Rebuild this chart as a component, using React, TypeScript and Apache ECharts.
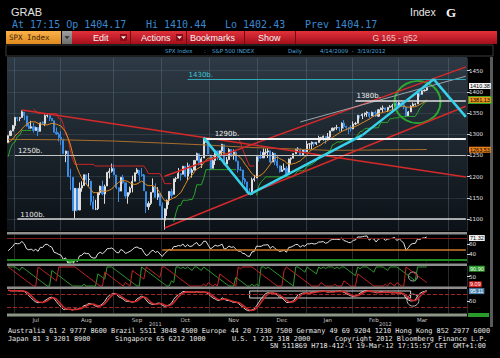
import { useEffect, useRef } from "react";
import * as echarts from "echarts";

type Bar = [number, number, number, number]; // open, close, low, high

// ---------- DATA ----------
const tradingDays: [string, number[]][] = [
  ["2011-06", [28, 29, 30]],
  ["2011-07", [1, 5, 6, 7, 8, 11, 12, 13, 14, 15, 18, 19, 20, 21, 22, 25, 26, 27, 28, 29]],
  ["2011-08", [1, 2, 3, 4, 5, 8, 9, 10, 11, 12, 15, 16, 17, 18, 19, 22, 23, 24, 25, 26, 29, 30, 31]],
  ["2011-09", [1, 2, 6, 7, 8, 9, 12, 13, 14, 15, 16, 19, 20, 21, 22, 23, 26, 27, 28, 29, 30]],
  ["2011-10", [3, 4, 5, 6, 7, 10, 11, 12, 13, 14, 17, 18, 19, 20, 21, 24, 25, 26, 27, 28, 31]],
  ["2011-11", [1, 2, 3, 4, 7, 8, 9, 10, 11, 14, 15, 16, 17, 18, 21, 22, 23, 25, 28, 29, 30]],
  ["2011-12", [1, 2, 5, 6, 7, 8, 9, 12, 13, 14, 15, 16, 19, 20, 21, 22, 23, 27, 28, 29, 30]],
  ["2012-01", [3, 4, 5, 6, 9, 10, 11, 12, 13, 17, 18, 19, 20, 23, 24, 25, 26, 27, 30, 31]],
  ["2012-02", [1, 2, 3, 6, 7, 8, 9, 10, 13, 14, 15, 16, 17, 21, 22, 23, 24, 27, 28, 29]],
  ["2012-03", [1, 2, 5, 6, 7, 8, 9, 12, 13, 14, 15, 16, 19, 20, 21, 22, 23, 26, 27, 28, 29, 30]],
  ["2012-04", [2, 3, 4, 5, 9, 10, 11, 12]],
];

const warmupCloses = [1314.6, 1312.9, 1300.2, 1286.2, 1284.9, 1279.6, 1289.0, 1271.0, 1271.8, 1287.9, 1265.4, 1267.6, 1271.5, 1278.4, 1295.5, 1287.1, 1283.5, 1268.5, 1280.1];

const barsJun: Bar[] = [[1280.2, 1296.7, 1280.2, 1296.8], [1296.9, 1307.4, 1296.9, 1309.2], [1307.6, 1320.6, 1307.6, 1322.0]];
const barsJul: Bar[] = [
  [1320.6, 1339.7, 1312.6, 1341.0], [1339.6, 1337.9, 1330.9, 1340.9], [1337.6, 1339.2, 1330.9, 1340.9], [1339.6, 1353.2, 1339.6, 1356.5],
  [1352.4, 1343.8, 1333.2, 1352.4], [1343.3, 1319.5, 1318.0, 1343.3], [1319.6, 1313.6, 1312.3, 1327.2], [1314.5, 1317.7, 1313.3, 1331.5],
  [1317.7, 1308.9, 1303.9, 1326.7], [1308.9, 1316.1, 1308.9, 1317.7], [1315.9, 1305.4, 1295.9, 1315.9], [1307.1, 1326.7, 1307.1, 1328.1],
  [1328.7, 1325.8, 1323.0, 1330.4], [1325.6, 1343.8, 1319.7, 1347.0], [1343.8, 1345.0, 1339.7, 1347.0], [1344.3, 1337.4, 1331.1, 1344.3],
  [1337.4, 1331.9, 1331.1, 1338.5], [1331.9, 1304.9, 1303.9, 1331.9], [1304.8, 1300.7, 1299.0, 1316.3], [1300.1, 1292.3, 1282.9, 1304.2],
];
const barsAug: Bar[] = [
  [1292.6, 1286.9, 1274.9, 1307.4], [1286.6, 1254.1, 1254.0, 1289.5], [1254.3, 1260.3, 1234.0, 1261.2], [1260.2, 1200.1, 1199.5, 1260.2],
  [1200.3, 1199.4, 1168.1, 1218.7], [1198.5, 1119.5, 1119.3, 1198.5], [1120.2, 1172.5, 1101.5, 1172.9], [1171.8, 1120.8, 1118.0, 1171.8],
  [1121.3, 1172.6, 1121.3, 1186.3], [1172.9, 1178.8, 1164.4, 1189.0], [1178.9, 1204.5, 1178.9, 1204.5], [1204.2, 1192.8, 1180.5, 1204.2],
  [1192.9, 1193.9, 1177.0, 1208.5], [1189.6, 1140.7, 1131.6, 1189.6], [1140.5, 1123.5, 1122.7, 1154.1], [1123.6, 1123.8, 1121.1, 1145.5],
  [1124.4, 1162.4, 1121.1, 1162.4], [1162.2, 1177.6, 1156.4, 1178.5], [1176.7, 1159.3, 1156.2, 1190.7], [1158.9, 1176.8, 1135.9, 1181.2],
  [1177.9, 1210.1, 1177.9, 1210.1], [1209.8, 1212.9, 1195.9, 1220.0], [1213.0, 1218.9, 1209.6, 1230.7],
];
const barsSep: Bar[] = [
  [1219.1, 1204.4, 1203.3, 1229.3], [1203.9, 1174.0, 1170.4, 1203.9], [1174.0, 1165.2, 1140.1, 1174.0], [1165.9, 1198.6, 1165.9, 1198.6],
  [1198.0, 1185.9, 1183.3, 1204.4], [1185.4, 1154.2, 1148.4, 1185.4], [1153.5, 1162.3, 1136.1, 1162.5], [1162.6, 1172.9, 1157.5, 1176.4],
  [1173.3, 1188.7, 1162.9, 1202.4], [1189.4, 1209.1, 1189.4, 1209.1], [1209.2, 1216.0, 1206.3, 1220.1], [1215.0, 1204.1, 1188.4, 1215.0],
  [1204.5, 1202.1, 1200.1, 1220.4], [1203.6, 1166.8, 1166.7, 1206.3], [1164.6, 1129.6, 1114.2, 1164.6], [1128.8, 1136.4, 1121.4, 1141.7],
  [1136.9, 1163.0, 1132.9, 1163.0], [1163.3, 1175.4, 1163.3, 1195.9], [1175.4, 1151.1, 1150.3, 1184.1], [1151.7, 1160.4, 1145.1, 1175.1],
  [1159.9, 1131.4, 1131.3, 1159.9],
];
const barsOct: Bar[] = [
  [1131.2, 1099.2, 1098.9, 1139.0], [1097.4, 1124.0, 1074.8, 1125.1], [1124.0, 1144.0, 1107.4, 1146.1], [1144.1, 1165.0, 1133.4, 1165.6],
  [1165.0, 1155.5, 1148.5, 1171.4], [1158.2, 1194.9, 1158.2, 1194.9], [1194.6, 1195.5, 1187.4, 1199.2], [1196.2, 1207.3, 1196.1, 1220.3],
  [1207.0, 1203.7, 1190.6, 1207.5], [1205.7, 1224.6, 1205.7, 1224.6], [1224.5, 1200.9, 1198.6, 1224.5], [1200.8, 1225.4, 1191.5, 1233.1],
  [1223.5, 1209.9, 1206.3, 1229.6], [1209.9, 1215.4, 1197.7, 1219.4], [1215.4, 1238.3, 1215.4, 1239.0], [1238.7, 1254.2, 1238.7, 1256.6],
  [1254.2, 1229.1, 1226.6, 1254.2], [1229.2, 1242.0, 1220.5, 1246.3], [1244.0, 1284.6, 1244.0, 1292.7], [1284.4, 1285.1, 1280.4, 1287.1],
  [1285.0, 1253.3, 1253.3, 1285.0],
];
const barsNov: Bar[] = [
  [1251.0, 1218.3, 1215.4, 1251.0], [1219.6, 1237.9, 1219.6, 1242.5], [1238.3, 1261.2, 1227.7, 1263.2], [1260.8, 1253.2, 1238.9, 1260.8],
  [1253.2, 1261.1, 1239.0, 1261.7], [1261.1, 1275.9, 1250.9, 1277.6], [1275.2, 1229.1, 1226.6, 1275.2], [1229.6, 1239.7, 1229.6, 1246.2],
  [1240.1, 1263.9, 1240.1, 1267.0], [1263.9, 1251.8, 1246.7, 1263.9], [1251.7, 1257.8, 1239.9, 1264.3], [1257.8, 1236.9, 1235.7, 1259.6],
  [1236.6, 1216.1, 1209.7, 1237.7], [1216.2, 1215.7, 1213.6, 1223.5], [1215.6, 1193.0, 1183.5, 1215.6], [1193.0, 1188.0, 1181.6, 1196.8],
  [1187.5, 1161.8, 1161.8, 1187.5], [1161.4, 1158.7, 1158.7, 1172.7], [1158.7, 1192.6, 1158.7, 1197.4], [1192.6, 1195.2, 1188.3, 1203.7],
  [1196.7, 1247.0, 1196.7, 1247.1],
];
const barsDec: Bar[] = [
  [1246.9, 1244.6, 1235.5, 1251.1], [1246.0, 1244.3, 1241.4, 1260.1], [1244.3, 1257.1, 1244.3, 1266.7], [1257.2, 1258.5, 1252.1, 1266.0],
  [1258.1, 1261.0, 1244.0, 1267.1], [1260.9, 1234.4, 1231.5, 1260.9], [1234.5, 1255.2, 1234.5, 1258.3], [1255.1, 1236.5, 1227.3, 1255.1],
  [1236.8, 1225.7, 1219.8, 1249.9], [1225.7, 1211.8, 1209.5, 1225.7], [1212.1, 1215.8, 1212.1, 1225.6], [1216.1, 1219.7, 1215.2, 1231.0],
  [1219.7, 1205.4, 1202.4, 1224.6], [1205.7, 1241.3, 1205.7, 1242.8], [1241.3, 1243.7, 1229.5, 1245.1], [1243.7, 1254.0, 1242.8, 1255.2],
  [1254.0, 1265.3, 1254.0, 1265.4], [1265.0, 1265.4, 1258.0, 1269.4], [1265.4, 1249.6, 1248.1, 1265.9], [1249.8, 1263.0, 1249.8, 1263.5],
  [1262.8, 1257.6, 1257.6, 1264.1],
];
const barsJan: Bar[] = [
  [1258.9, 1277.1, 1258.9, 1284.6], [1277.0, 1277.3, 1265.7, 1278.7], [1277.3, 1281.1, 1265.3, 1283.1], [1280.9, 1277.8, 1271.5, 1281.8],
  [1277.8, 1280.7, 1274.5, 1282.0], [1280.8, 1292.1, 1280.8, 1296.5], [1292.0, 1292.5, 1285.0, 1293.8], [1292.5, 1295.5, 1285.0, 1296.8],
  [1294.8, 1289.1, 1277.6, 1294.8], [1290.2, 1293.7, 1290.2, 1303.0], [1293.7, 1308.0, 1291.0, 1308.1], [1308.1, 1314.5, 1308.1, 1315.5],
  [1314.5, 1315.4, 1309.2, 1315.4], [1315.3, 1316.0, 1309.9, 1322.3], [1316.0, 1314.7, 1306.1, 1316.0], [1314.4, 1326.1, 1306.7, 1328.3],
  [1326.3, 1318.4, 1313.3, 1333.5], [1318.3, 1316.3, 1309.2, 1320.1], [1316.2, 1313.0, 1300.5, 1316.2], [1313.5, 1312.4, 1306.1, 1321.4],
];
const barsFeb: Bar[] = [
  [1312.5, 1324.1, 1312.5, 1330.5], [1324.2, 1325.5, 1321.6, 1329.2], [1326.2, 1344.9, 1326.2, 1345.3], [1344.3, 1344.3, 1337.5, 1344.4],
  [1344.3, 1347.1, 1335.9, 1349.2], [1347.0, 1350.0, 1341.9, 1351.0], [1350.0, 1352.0, 1341.2, 1354.3], [1351.2, 1342.6, 1337.4, 1351.2],
  [1343.1, 1351.8, 1343.1, 1353.4], [1351.3, 1350.5, 1340.8, 1351.3], [1350.5, 1343.2, 1340.8, 1355.9], [1342.6, 1358.0, 1341.0, 1359.0],
  [1358.1, 1361.2, 1357.2, 1363.4], [1361.2, 1362.2, 1352.3, 1367.8], [1362.1, 1357.7, 1355.9, 1362.7], [1357.5, 1363.5, 1352.3, 1364.2],
  [1363.5, 1365.7, 1363.5, 1368.9], [1365.2, 1367.6, 1354.9, 1371.9], [1367.6, 1372.2, 1363.9, 1373.1], [1372.2, 1365.7, 1360.9, 1378.0],
];
const barsMar: Bar[] = [
  [1365.9, 1374.1, 1365.9, 1376.2], [1374.1, 1369.6, 1368.4, 1374.5], [1369.6, 1364.3, 1359.1, 1369.6], [1363.6, 1343.4, 1340.0, 1363.6],
  [1343.4, 1352.6, 1343.4, 1354.9], [1352.7, 1365.9, 1352.7, 1368.7], [1366.0, 1370.9, 1366.0, 1374.8], [1370.8, 1371.1, 1367.6, 1373.0],
  [1371.9, 1396.0, 1371.9, 1396.0], [1396.0, 1394.3, 1388.6, 1399.4], [1394.2, 1402.6, 1394.2, 1403.3], [1402.6, 1404.2, 1401.0, 1405.9],
  [1404.2, 1410.4, 1402.4, 1410.4],
];

// 200-day average at a few dates
const ma200Dates = ["2011-06-28", "2011-08-01", "2011-09-01", "2011-10-04", "2011-10-27", "2011-11-25", "2012-01-18", "2012-03-19"];
const ma200Values = [1288, 1287, 1284, 1279, 1275, 1269, 1262, 1264];

const priceTicks = [1100, 1150, 1200, 1250, 1300, 1350, 1400, 1450];
const rsiTicks = [40, 60];
const oscTicks = [50];

const levelLabels = ["1100b.", "1250b.", "1290b.", "1380b.", "1430b."];
const levelValues = [1100, 1250, 1290, 1380, 1430];
const levelStarts = ["2011-07-05", "2011-07-01", "2011-10-27", "2012-02-02", "2011-10-18"];
const lineEnd = "2012-04-12";

const resistanceLine: [string, number][] = [["2011-07-07", 1357], [lineEnd, 1199]];
const channelLow: [string, number][] = [["2011-10-04", 1078.7], [lineEnd, 1366]];
const channelHigh: [string, number][] = [["2011-10-04", 1201], [lineEnd, 1459]];
const recentTop: [string, number][] = [["2011-12-28", 1329], [lineEnd, 1437]];
const cyanPath: [string, number][] = [["2011-10-27", 1292], ["2011-11-25", 1158], ["2012-02-07", 1298], ["2012-03-22", 1430], [lineEnd, 1341]];
const focusCenter: [string, number] = ["2012-03-13", 1376];

const priceTags: [string, number][] = [["1410.38", 1410.38], ["1381.13", 1381.13], ["1263.53", 1263.53]];
const rsiTag = 71.32;
const rsiGuide: [string, number][] = [["2011-10-03", 49], [lineEnd, 49]];
const aroonTags: [string, number][] = [["90.90", 90.9], ["9.09", 9.09]];
const stochTag = 95.11;
const oscMark: [string, number] = ["2012-03-09", 50];
const stochMark: [string, number] = ["2012-03-09", 54];
const stochBox: [string, number][] = [["2011-11-25", 95.8], ["2012-03-08", 63.7]];

const MONTHS = ["Jan", "Feb", "Mar", "Apr", "May", "Jun", "Jul", "Aug", "Sep", "Oct", "Nov", "Dec"];

// ---------- indicators ----------
function smaPartial(arr: (number | null)[], n: number) {
  return arr.map((_, i) => {
    let s = 0, c = 0;
    for (let k = Math.max(0, i - n + 1); k <= i; k++) {
      const v = arr[k];
      if (v != null) { s += v; c++; }
    }
    return c ? s / c : null;
  });
}
function rsiCalc(c: number[], n: number) {
  const out: (number | null)[] = [null];
  let ag = 0, al = 0;
  for (let i = 1; i < c.length; i++) {
    const d = c[i] - c[i - 1];
    const g = Math.max(d, 0), l = Math.max(-d, 0);
    if (i <= n) { ag = (ag * (i - 1) + g) / i; al = (al * (i - 1) + l) / i; }
    else { ag = (ag * (n - 1) + g) / n; al = (al * (n - 1) + l) / n; }
    out.push(al === 0 ? 100 : 100 - 100 / (1 + ag / al));
  }
  return out;
}
function supertrend(h: number[], l: number[], c: number[], period: number, mult: number) {
  const up: (number | null)[] = [], dn: (number | null)[] = [];
  let atr = 0, fu = 0, fl = 0, trend = 1;
  for (let i = 0; i < c.length; i++) {
    const tr = i === 0 ? h[i] - l[i] : Math.max(h[i] - l[i], Math.abs(h[i] - c[i - 1]), Math.abs(l[i] - c[i - 1]));
    atr = i < period ? (atr * i + tr) / (i + 1) : (atr * (period - 1) + tr) / period;
    const mid = (h[i] + l[i]) / 2;
    const bu = mid + mult * atr, bl = mid - mult * atr;
    if (i === 0) { fu = bu; fl = bl; }
    else {
      fu = bu < fu || c[i - 1] > fu ? bu : fu;
      fl = bl > fl || c[i - 1] < fl ? bl : fl;
      if (trend === 1 && c[i] < fl) trend = -1;
      else if (trend === -1 && c[i] > fu) trend = 1;
    }
    up.push(trend === 1 ? fl : null);
    dn.push(trend === -1 ? fu : null);
  }
  return { up, dn };
}
function aroon(h: number[], l: number[], n: number) {
  const up: number[] = [], dn: number[] = [];
  for (let i = 0; i < h.length; i++) {
    const s = Math.max(0, i - n);
    let hi = s, lo = s;
    for (let k = s; k <= i; k++) { if (h[k] >= h[hi]) hi = k; if (l[k] <= l[lo]) lo = k; }
    up.push(((n - (i - hi)) / n) * 100);
    dn.push(((n - (i - lo)) / n) * 100);
  }
  return { up, dn };
}

function buildOption() {
  const dates = tradingDays.flatMap(([ym, ds]) => ds.map((d) => `${ym}-${String(d).padStart(2, "0")}`));
  const bars = [...barsJun, ...barsJul, ...barsAug, ...barsSep, ...barsOct, ...barsNov, ...barsDec, ...barsJan, ...barsFeb, ...barsMar];
  const closes = bars.map((b) => b[1]);
  const lows = bars.map((b) => b[2]);
  const highs = bars.map((b) => b[3]);
  const W = warmupCloses.length;
  const allC = [...warmupCloses, ...closes];
  const ma10 = closes.map((_, i) => {
    let s = 0;
    for (let k = i + W - 9; k <= i + W; k++) s += allC[k];
    return s / 10;
  });
  const rsi = rsiCalc(allC, 14).slice(W) as number[];
  const st = supertrend(highs, lows, closes, 10, 2.5);
  const ar = aroon(highs, lows, 11);
  const raw = closes.map((c, i) => {
    let hh = -Infinity, ll = Infinity;
    for (let k = Math.max(0, i - 13); k <= i; k++) { hh = Math.max(hh, highs[k]); ll = Math.min(ll, lows[k]); }
    return hh === ll ? 50 : ((c - ll) / (hh - ll)) * 100;
  });
  const stK = smaPartial(raw, 5);
  const stD = smaPartial(stK, 3);
  const ma200: (number | null)[] = dates.map(() => null);
  ma200Dates.forEach((d, i) => { ma200[dates.indexOf(d)] = ma200Values[i]; });

  const monthKey = (i: number) => dates[i].slice(0, 7);
  const monthStart = (i: number) => i > 0 && monthKey(i) !== monthKey(i - 1);
  const ranges: Record<string, [number, number]> = {};
  dates.forEach((_, i) => {
    const k = monthKey(i);
    if (!ranges[k]) ranges[k] = [i, i]; else ranges[k][1] = i;
  });
  const monthMid = new Set<number>();
  Object.values(ranges).forEach(([a, b]) => { if (b - a >= 10) monthMid.add(Math.floor((a + b) / 2)); });
  const yr: Record<string, [number, number]> = {};
  dates.forEach((d, i) => { const k = d.slice(0, 4); if (!yr[k]) yr[k] = [i, i]; else yr[k][1] = i; });
  const yearMid = new Set<number>(Object.values(yr).map(([a, b]) => Math.floor((a + b) / 2)));

  const gridDefs = [
    { top: 58, height: 173 },
    { top: 235, height: 28 },
    { top: 266, height: 21 },
    { top: 289, height: 24 },
  ];
  const grid = gridDefs.map((g) => ({ left: 7, width: 460, top: g.top, height: g.height, containLabel: false, outerBoundsMode: "none", show: false }));

  const xBase = (gi: number, col: string) => ({
    type: "category", gridIndex: gi, data: dates, boundaryGap: true,
    axisLine: { show: false }, axisTick: { show: false }, axisLabel: { show: false },
    splitLine: { show: true, interval: (i: number) => monthStart(i), lineStyle: { color: col, width: 1 } },
  });
  const xAxis: any[] = [
    xBase(0, "rgba(110,130,145,0.35)"),
    xBase(1, "#2b2b2b"),
    xBase(2, "#2b2b2b"),
    {
      ...xBase(3, "#2b2b2b"),
      axisLabel: {
        show: true, interval: (i: number) => monthMid.has(i), margin: 4, color: "#c8c8c8", fontSize: 5.5, fontFamily: "DejaVu Sans",
        formatter: (v: string) => MONTHS[Number(v.slice(5, 7)) - 1],
      },
    },
    {
      type: "category", gridIndex: 3, data: dates, position: "bottom", offset: 5,
      axisLine: { show: false }, axisTick: { show: false }, splitLine: { show: false },
      axisLabel: { show: true, interval: (i: number) => yearMid.has(i), margin: 3, color: "#c8c8c8", fontSize: 5, fontFamily: "DejaVu Sans", formatter: (v: string) => v.slice(0, 4) },
    },
  ];
  const yBase = (gi: number, min: number, max: number, ticks: number[], split: boolean) => ({
    type: "value", gridIndex: gi, position: "right", min, max,
    axisLine: { show: false },
    axisTick: { show: true, length: 3, lineStyle: { color: "#d0d0d0" }, customValues: ticks },
    axisLabel: { color: "#e4e4e4", fontSize: 5.5, margin: 2, fontFamily: "DejaVu Sans", customValues: ticks, formatter: (v: number) => String(v) },
    splitLine: { show: split, lineStyle: { color: "rgba(110,130,145,0.22)" } },
  });
  const yAxis = [
    yBase(0, 1071.7, 1480, priceTicks, true),
    yBase(1, 23.8, 77.1, rsiTicks, false),
    yBase(2, -5, 105, oscTicks, false),
    yBase(3, -5, 105, oscTicks, false),
  ];

  const tag = (value: number, text: string, bg: string, fg: string, border?: string, dy = 0) => ({
    yAxis: value,
    lineStyle: { color: "rgba(0,0,0,0)", width: 0 },
    label: {
      show: true, position: "end", distance: 2, formatter: text, backgroundColor: bg, color: fg, offset: [0, dy],
      fontSize: 5.5, fontFamily: "Liberation Sans", padding: [0, 1], lineHeight: 6, borderColor: border || bg, borderWidth: border ? 1 : 0,
    },
  });
  const seg = (a: [string, number], b: [string, number], color: string, width: number, type = "solid") => [
    { coord: a, lineStyle: { color, width, type } },
    { coord: b },
  ];
  const levelStyle: Record<string, { color: string; label: string; width: number; pad: number }> = {
    "1100b.": { color: "#dadada", label: "#e8e8e8", width: 1.5, pad: 2 },
    "1250b.": { color: "#c4c4c4", label: "#e8e8e8", width: 1, pad: 2 },
    "1290b.": { color: "#f4f4f4", label: "#f0f0f0", width: 2, pad: 10 },
    "1380b.": { color: "#e0e0e0", label: "#f0f0f0", width: 1.5, pad: 0 },
    "1430b.": { color: "#2aaabb", label: "#3cc8d8", width: 1, pad: 0 },
  };
  const levelLines = levelLabels.map((lab, i) => {
    const s = levelStyle[lab];
    return [
      {
        coord: [levelStarts[i], levelValues[i]], lineStyle: { color: s.color, width: s.width, type: "solid" },
        label: { show: true, position: "insideStartTop", formatter: lab, color: s.label, fontSize: 7, fontFamily: "DejaVu Sans", distance: 1, padding: [0, 0, 0, s.pad] },
      },
      { coord: [lineEnd, levelValues[i]] },
    ];
  });
  const cyanSegs = cyanPath.slice(1).map((p, i) => seg(cyanPath[i], p, "#36d2ea", 2.5));
  const tagColors: Record<string, [string, string, string?]> = {
    "1410.38": ["#f2f2f2", "#000"],
    "1381.13": ["#f0951e", "#000", "#2aa02a"],
    "1263.53": ["#e9821c", "#000"],
  };

  const mlBase = { silent: true, symbol: ["none", "none"], animation: false, label: { show: false } };

  const series: any[] = [
    {
      type: "candlestick", xAxisIndex: 0, yAxisIndex: 0, barWidth: 1.6,
      data: bars.map((b) => [b[0], b[1], b[2], b[3]]),
      itemStyle: { color: "#dedede", color0: "#3a8ce6", borderColor: "#dedede", borderColor0: "#3a8ce6", borderWidth: 1 },
    },
    { type: "line", name: "MA200", xAxisIndex: 0, yAxisIndex: 0, data: ma200, connectNulls: true, showSymbol: false, symbol: "none", lineStyle: { color: "#a86e2a", width: 1 } },
    { type: "line", name: "Stop up", xAxisIndex: 0, yAxisIndex: 0, data: st.up, showSymbol: false, symbol: "none", lineStyle: { color: "#2aa82a", width: 1 } },
    { type: "line", name: "Stop down", xAxisIndex: 0, yAxisIndex: 0, data: st.dn, showSymbol: false, symbol: "none", lineStyle: { color: "#d02626", width: 1 } },
    {
      type: "line", name: "MA10", xAxisIndex: 0, yAxisIndex: 0, data: ma10, showSymbol: false, symbol: "none", lineStyle: { color: "#e08c22", width: 1 },
      markLine: {
        ...mlBase,
        data: [
          seg(resistanceLine[0], resistanceLine[1], "#d42a2a", 1.5),
          seg(channelLow[0], channelLow[1], "#d42a2a", 1.5),
          seg(channelHigh[0], channelHigh[1], "#d42a2a", 1.5),
          seg(recentTop[0], recentTop[1], "#9aa4ac", 1),
          ...levelLines,
          ...cyanSegs,
          ...priceTags.map(([t, v], k) => tag(v, t, tagColors[t][0], tagColors[t][1], tagColors[t][2], k === 0 ? -1.5 : 0)),
        ],
      },
    },
    {
      type: "scatter", xAxisIndex: 0, yAxisIndex: 0, data: [focusCenter], symbol: "circle", symbolSize: [46, 42],
      itemStyle: { color: "rgba(0,0,0,0)", borderColor: "#2ec82e", borderWidth: 2 }, silent: true,
    },
    // RSI panel
    { type: "line", xAxisIndex: 1, yAxisIndex: 1, data: rsi.map(() => 30), showSymbol: false, symbol: "none", lineStyle: { width: 0 }, areaStyle: { color: "#3aa83a", opacity: 1, origin: "start" } },
    { type: "line", xAxisIndex: 1, yAxisIndex: 1, data: rsi.map((v) => Math.min(v, 30)), showSymbol: false, symbol: "none", lineStyle: { width: 0 }, areaStyle: { color: "#000", opacity: 1, origin: "start" } },
    {
      type: "line", name: "RSI", xAxisIndex: 1, yAxisIndex: 1, data: rsi, showSymbol: false, symbol: "none", lineStyle: { color: "#e2e2e2", width: 1 },
      markLine: {
        ...mlBase,
        data: [
          { yAxis: 70, lineStyle: { color: "#7a1c1c", width: 1, type: "solid" } },
          { yAxis: 30, lineStyle: { color: "#1f8a1f", width: 2, type: "solid" } },
          seg(rsiGuide[0], rsiGuide[1], "#d27a22", 1.5),
          tag(rsiTag, rsiTag.toFixed(2), "#f2f2f2", "#000"),
        ],
      },
    },
    // Aroon panel
    { type: "line", name: "Aroon up", xAxisIndex: 2, yAxisIndex: 2, data: ar.up, showSymbol: false, symbol: "none", lineStyle: { color: "#2f9a2f", width: 1 } },
    {
      type: "line", name: "Aroon down", xAxisIndex: 2, yAxisIndex: 2, data: ar.dn, showSymbol: false, symbol: "none", lineStyle: { color: "#c42424", width: 1 },
      markLine: {
        ...mlBase,
        data: [tag(aroonTags[0][1], aroonTags[0][0], "#2a9a2a", "#fff"), tag(aroonTags[1][1], aroonTags[1][0], "#d42020", "#fff")],
      },
    },
    { type: "scatter", xAxisIndex: 2, yAxisIndex: 2, data: [oscMark], symbol: "circle", symbolSize: 9, itemStyle: { color: "rgba(0,0,0,0)", borderColor: "#e0e0e0", borderWidth: 1 }, silent: true },
    // Stochastic panel
    { type: "line", name: "%K", xAxisIndex: 3, yAxisIndex: 3, data: stK, showSymbol: false, symbol: "none", lineStyle: { color: "#d8d8d8", width: 1 } },
    {
      type: "line", name: "%D", xAxisIndex: 3, yAxisIndex: 3, data: stD, showSymbol: false, symbol: "none", lineStyle: { color: "#d42a2a", width: 1.5 },
      markLine: {
        ...mlBase,
        data: [
          { yAxis: 80, lineStyle: { color: "#a02222", width: 1, type: "dashed" } },
          { yAxis: 20, lineStyle: { color: "#a02222", width: 1, type: "dashed" } },
          tag(stochTag, stochTag.toFixed(2), "#4f86b0", "#fff"),
        ],
      },
      markArea: {
        silent: true,
        data: [[{ coord: stochBox[0], itemStyle: { color: "rgba(0,0,0,0)", borderColor: "#d8d8d8", borderWidth: 1 } }, { coord: stochBox[1] }]],
      },
    },
    { type: "scatter", xAxisIndex: 3, yAxisIndex: 3, data: [stochMark], symbol: "circle", symbolSize: 12, itemStyle: { color: "rgba(0,0,0,0)", borderColor: "#e0e0e0", borderWidth: 1 }, silent: true },
  ];

  // ---------- decorations ----------
  const txt = (text: string, x: number, y: number, size: number, fill: string, family = "DejaVu Sans", weight = "normal", align = "left") => ({
    type: "text", x, y, z: 30, silent: true,
    style: { text, fill, fontSize: size, fontFamily: family, fontWeight: weight, align, verticalAlign: "middle", textAlign: align, textVerticalAlign: "middle" },
  });
  const rect = (x: number, y: number, w: number, h: number, fill: any, z = 20, extra: any = {}) => ({
    type: "rect", z, silent: true, shape: { x, y, width: w, height: h }, style: { fill, ...extra },
  });
  const vgrad = (a: string, b: string) => new echarts.graphic.LinearGradient(0, 0, 0, 1, [{ offset: 0, color: a }, { offset: 1, color: b }]);
  const tri = (cx: number, cy: number, fill: string) => ({
    type: "polygon", z: 31, silent: true, shape: { points: [[cx - 2.5, cy - 1.2], [cx + 2.5, cy - 1.2], [cx, cy + 1.6]] }, style: { fill },
  });
  const mono = "DejaVu Sans Mono";
  const blue = "#3a88d0";
  const foot = 6.85;
  const graphic: any[] = [
    rect(7, 57, 460, 174, vgrad("#2d3944", "#0c1217"), -5),
    txt("GRAB", 11, 12, 11, "#e2e2e2", "Liberation Sans"),
    txt("At 17:15 Op 1404.17", 12, 24, 10, blue, mono),
    txt("Hi 1410.44", 146, 24, 10, blue, mono),
    txt("Lo 1402.43", 225, 24, 10, blue, mono),
    txt("Prev 1404.17", 305, 24, 10, blue, mono),
    txt("Index", 410, 12, 10.5, "#e8e8e8", "Liberation Sans"),
    txt("G", 446, 12, 13, "#f4f4f4", "Liberation Serif", "bold"),
    rect(6, 31, 55, 13, vgrad("#fbb24c", "#e08a1e")),
    txt("SPX Index", 9, 37.5, 7.5, "#3a2404", mono),
    rect(62, 31, 10, 13, vgrad("#a0a0a0", "#6e6e6e")),
    tri(67, 37.5, "#2a2a2a"),
    rect(72, 31, 425, 13, vgrad("#e2313b", "#a30f1b")),
    rect(130, 31, 1, 13, "#6e0a12", 21),
    rect(186, 31, 1, 13, "#6e0a12", 21),
    rect(244, 31, 1, 13, "#6e0a12", 21),
    rect(295, 31, 1, 13, "#6e0a12", 21),
    rect(120, 34, 7, 7, "#8a0c16", 21),
    tri(123.5, 37.5, "#f0f0f0"),
    rect(176, 34, 7, 7, "#8a0c16", 21),
    tri(179.5, 37.5, "#f0f0f0"),
    txt("Edit", 93, 37.5, 9, "#f4f4f4", "Liberation Sans"),
    txt("Actions", 141, 37.5, 9, "#f4f4f4", "Liberation Sans"),
    txt("Bookmarks", 190, 37.5, 9, "#f4f4f4", "Liberation Sans"),
    txt("Show", 258, 37.5, 9, "#f4f4f4", "Liberation Sans"),
    txt("G 165 - g52", 395, 37.5, 8.5, "#f2c4c4", "Liberation Sans", "normal", "center"),
    rect(6, 45, 487, 11, "#000", 20, { stroke: "#3c3c3c", lineWidth: 1 }),
    txt("SPX Index", 165, 50.5, 5.5, "#4aa6dc"),
    txt(":", 204, 50.5, 5.5, "#4aa6dc"),
    txt("S&P 500 INDEX", 212, 50.5, 5.5, "#4aa6dc"),
    txt("Daily", 288, 50.5, 5.5, "#4aa6dc"),
    txt("4/14/2009  -  3/19/2012", 320, 50.5, 5.5, "#4aa6dc"),
    rect(490, 57, 3, 270, "#5a5a5a", 5),
    rect(7, 232, 460, 2.5, "#8e8e8e"),
    rect(7, 263.5, 460, 2.5, "#8e8e8e"),
    rect(7, 286.5, 460, 2.5, "#8e8e8e"),
    rect(7, 313.5, 460, 3, "#8c9788"),
    rect(468, 313, 21, 4, "#2a9a2a"),
    txt("Australia 61 2 9777 8600 Brazil 5511 3048 4500 Europe 44 20 7330 7500 Germany 49 69 9204 1210 Hong Kong 852 2977 6000", 8, 331, foot, "#e8e8e8", mono),
    txt("Japan 81 3 3201 8900", 8, 338.5, foot, "#e8e8e8", mono),
    txt("Singapore 65 6212 1000", 115, 338.5, foot, "#e8e8e8", mono),
    txt("U.S. 1 212 318 2000", 232, 338.5, foot, "#e8e8e8", mono),
    txt("Copyright 2012 Bloomberg Finance L.P.", 335, 338.5, foot, "#e8e8e8", mono),
    txt("SN 511869 H718-412-1 19-Mar-12 17:15:57 CET", 270, 345.5, foot, "#e8e8e8", mono),
    txt("GMT+1:00", 453, 345.5, foot, "#e8e8e8", mono),
  ];

  return { backgroundColor: "#000", animation: false, grid, xAxis, yAxis, series, graphic };
}

export default function App() {
  const ref = useRef<HTMLDivElement>(null);
  useEffect(() => {
    document.body.style.margin = "0";
    document.body.style.background = "#000";
    const chart = echarts.init(ref.current!, null, { renderer: "svg", width: 500, height: 358 });
    chart.setOption(buildOption() as any);
    return () => chart.dispose();
  }, []);
  return <div ref={ref} style={{ width: 500, height: 358, background: "#000" }} />;
}
